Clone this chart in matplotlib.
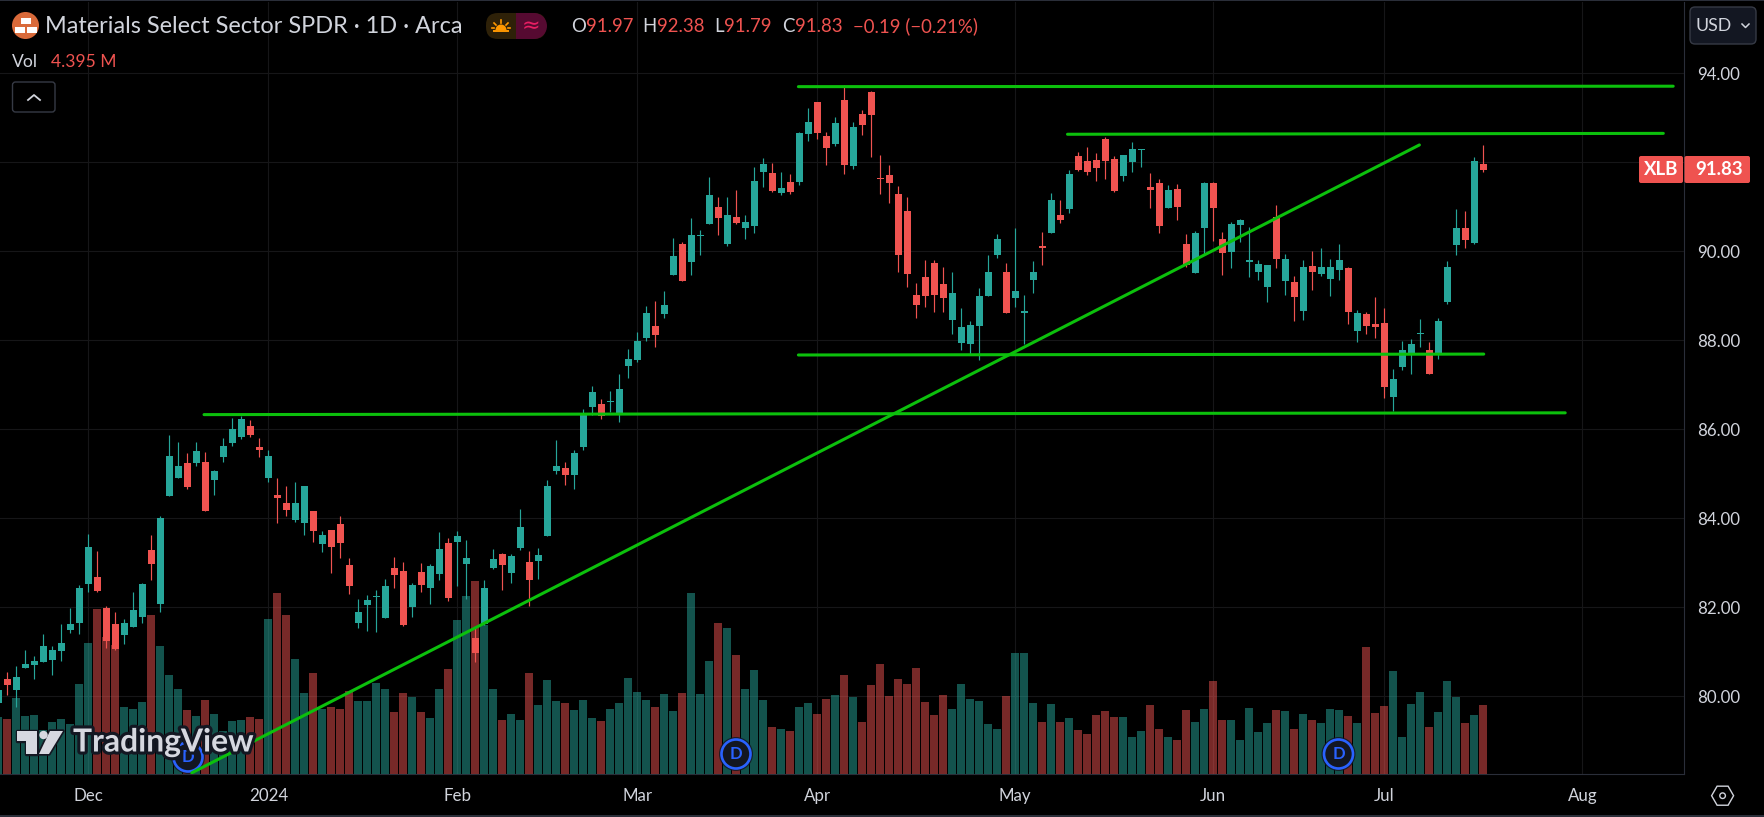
import matplotlib
matplotlib.use("Agg")
import matplotlib.pyplot as plt
import matplotlib.patheffects as pe
from matplotlib.patches import Circle, Polygon, Rectangle, FancyBboxPatch, Wedge
import numpy as np

# ---------- data ----------
first_bar = -2
opens = [79.86,80.39,
 80.15,80.64,80.70,80.77,80.82,81.02,81.49,81.65,82.52,82.67,
 81.99,81.63,81.38,81.56,81.78,83.29,82.07,84.50,84.91,85.24,
 85.24,85.27,84.87,85.38,85.69,85.83,86.07,85.60,84.91,84.52,
 84.34,83.96,83.90,84.16,83.42,83.74,83.87,82.95,81.65,82.05,
 82.23,81.76,82.88,82.82,82.01,82.79,82.43,82.75,83.45,83.47,
 82.97,81.31,81.63,82.88,83.20,82.77,83.33,83.02,83.04,83.60,
 85.06,85.13,84.97,85.60,86.50,86.57,86.61,86.34,87.42,87.56,
 88.05,88.32,88.59,89.47,90.16,89.76,90.34,90.61,91.00,90.16,
 90.77,90.52,90.57,91.78,91.76,91.31,91.56,91.56,92.64,93.36,
 92.59,92.41,93.40,91.92,93.09,93.58,91.65,91.72,91.29,90.91,
 89.02,89.42,89.74,89.27,88.46,87.94,87.92,88.32,89.00,89.92,
 89.54,88.95,88.62,89.36,90.10,90.41,90.82,90.95,92.14,92.03,
 92.05,92.52,92.07,91.69,92.01,92.28,91.45,91.54,90.97,91.40,
 90.16,89.51,90.52,91.54,90.28,89.99,90.59,89.77,89.54,89.20,
 90.77,89.33,89.31,88.66,89.67,89.49,89.38,89.58,89.63,88.21,
 88.59,88.37,88.39,86.73,87.40,87.69,88.14,87.78,87.69,88.86,
 90.14,90.52,90.19,91.97]
closes = [80.14,80.25,
 80.43,80.73,80.79,81.13,81.04,81.20,81.63,82.43,83.36,82.37,
 81.24,81.06,81.65,81.94,82.52,82.97,84.01,85.40,85.18,84.70,
 85.51,84.16,85.07,85.63,86.01,86.23,85.87,85.54,85.40,84.46,
 84.19,84.34,84.73,83.72,83.63,83.36,83.45,82.48,81.90,82.16,
 82.25,82.48,82.73,81.60,82.50,82.50,82.93,83.31,82.21,83.60,
 83.11,80.97,82.43,83.09,82.95,83.15,83.81,82.61,83.18,84.73,
 85.18,84.97,85.47,86.34,86.84,86.30,86.64,86.91,87.58,87.99,
 88.61,88.12,88.79,89.90,89.33,90.37,90.37,91.27,90.75,90.82,
 90.64,90.66,91.58,91.96,91.36,91.42,91.33,92.66,92.91,92.66,
 92.32,92.88,91.94,92.79,92.84,93.06,91.63,91.54,89.92,89.49,
 88.79,89.00,89.02,88.95,89.06,88.30,88.34,89.00,89.54,90.28,
 88.61,89.11,88.64,89.54,90.08,91.15,90.70,91.74,91.83,91.78,
 91.87,92.03,91.36,92.16,92.30,92.30,91.38,90.57,91.38,91.00,
 89.69,90.41,91.54,90.97,89.96,90.61,90.70,89.80,89.72,89.69,
 89.83,89.83,88.97,89.65,89.54,89.65,89.65,89.81,88.64,88.61,
 88.32,88.30,86.95,87.13,87.78,87.92,88.16,87.24,88.43,89.65,
 90.52,90.25,92.03,91.83]
highs = [80.30,80.55,
 80.68,81.04,80.91,81.40,81.13,81.63,81.99,82.49,83.65,83.27,
 82.03,81.90,81.74,82.34,82.55,83.63,84.05,85.87,85.72,85.46,
 85.72,85.49,85.09,85.80,86.26,86.30,86.21,85.80,85.54,84.91,
 84.73,84.82,84.73,84.16,83.72,83.74,84.05,83.11,82.19,82.28,
 82.39,82.64,83.13,83.02,82.55,83.00,82.97,83.69,83.56,83.72,
 83.51,81.53,82.61,83.31,83.22,83.20,84.21,83.27,83.33,84.86,
 85.76,85.27,85.54,86.46,86.97,86.68,86.86,87.24,87.81,88.19,
 88.77,88.88,89.11,90.30,90.21,90.75,90.48,91.67,91.22,91.22,
 91.38,90.82,91.90,92.10,91.99,91.78,91.74,92.68,93.22,93.36,
 92.68,93.02,93.74,92.91,93.18,93.60,92.17,91.94,91.47,91.22,
 89.29,89.81,89.81,89.65,89.54,88.73,88.43,89.18,89.92,90.39,
 89.74,90.52,89.02,89.78,90.43,91.31,91.15,91.83,92.23,92.34,
 92.21,92.57,92.14,92.16,92.46,92.30,91.76,91.63,91.49,91.51,
 90.39,90.46,91.56,91.56,90.43,90.66,90.73,90.55,89.81,89.69,
 91.04,89.94,89.45,89.81,90.01,90.07,89.83,90.16,89.65,88.68,
 88.64,88.97,88.73,87.36,87.99,88.03,88.48,87.96,88.50,89.78,
 90.95,90.91,92.12,92.38]
lows = [79.70,80.03,
 79.75,80.63,80.38,80.77,80.48,80.80,81.43,81.40,82.34,82.34,
 81.09,81.03,81.18,81.56,81.65,82.61,81.90,84.50,84.91,84.66,
 85.18,84.16,84.52,85.27,85.63,85.78,85.83,85.38,84.82,83.90,
 84.05,83.92,83.63,83.47,83.24,82.77,83.11,82.30,81.54,81.47,
 81.45,81.76,82.43,81.58,81.78,82.34,82.07,82.61,82.14,82.48,
 82.19,80.76,81.60,82.86,82.39,82.55,83.29,82.03,82.64,83.60,
 85.00,84.75,84.66,85.54,86.32,86.23,86.39,86.16,87.15,87.51,
 87.99,87.85,88.50,89.47,89.33,89.47,89.92,90.61,90.37,90.12,
 90.61,90.28,90.41,91.45,91.33,91.27,91.29,91.49,92.48,92.52,
 91.94,92.37,91.74,91.85,92.61,92.12,91.29,91.09,89.54,89.20,
 88.50,88.75,88.64,88.64,88.14,87.78,87.67,87.56,89.00,89.85,
 88.61,88.75,87.92,89.06,89.69,90.41,90.64,90.86,91.81,91.72,
 91.58,91.63,91.33,91.58,91.78,91.90,90.97,90.41,90.97,90.70,
 89.65,89.51,89.92,90.23,89.47,89.63,90.21,89.42,89.36,88.86,
 89.63,89.02,88.43,88.46,89.13,89.45,89.00,89.36,88.37,87.96,
 88.14,88.05,86.70,86.41,87.33,87.24,87.85,87.24,87.58,88.82,
 89.92,90.07,90.16,91.79]
volumes_m = [3.60,3.49,
 4.82,3.68,3.74,2.79,3.30,3.49,3.17,5.71,8.30,10.46,
 8.68,8.18,4.25,4.12,4.56,10.08,8.11,6.28,5.39,4.06,
 3.68,4.69,3.80,2.70,3.36,3.42,3.61,3.49,9.83,11.47,
 10.08,7.29,5.13,6.40,4.12,4.25,4.12,5.26,4.63,4.63,
 5.77,5.39,3.93,5.13,4.88,3.93,3.55,5.39,6.66,9.76,
 11.28,12.23,9.45,5.39,3.42,3.80,3.42,6.40,4.37,5.96,
 4.63,4.50,4.06,4.69,3.55,3.36,4.12,4.50,6.09,5.20,
 4.69,4.25,5.07,3.99,5.13,11.47,5.07,7.16,9.57,9.25,
 7.54,5.39,6.59,4.69,2.98,2.85,2.73,4.25,4.50,3.80,
 4.75,5.01,6.28,4.88,3.30,5.64,6.97,4.94,6.02,5.71,
 6.72,4.56,3.76,5.03,4.14,5.73,4.78,4.65,3.19,2.87,
 4.97,7.69,7.69,4.52,3.32,4.46,3.32,3.57,2.81,2.56,
 3.76,4.01,3.63,3.63,2.37,2.75,4.40,2.87,2.37,2.18,
 4.08,3.32,4.14,5.92,3.44,3.44,2.18,4.20,2.68,3.25,
 4.08,4.01,2.87,3.82,3.44,3.25,4.14,4.08,3.70,3.25,
 8.07,3.89,4.33,6.55,2.37,4.46,5.22,3.00,3.95,5.92,
 4.90,3.25,3.76,4.395]
price_ticks = [80, 82, 84, 86, 88, 90, 92, 94]
month_labels = ["Dec", "2024", "Feb", "Mar", "Apr", "May", "Jun", "Jul", "Aug"]
month_bars = [8, 28, 49, 69, 89, 111, 133, 152, 174]
# trend lines drawn on the chart: bar positions and price levels
line_bars = [(86.9, 184.1), (116.8, 183.0), (86.9, 163.05), (20.86, 172.1), (19.5, 155.9)]
line_prices = [(93.70, 93.71), (92.63, 92.65), (87.67, 87.69), (86.33, 86.37), (78.28, 92.39)]

# ---------- style ----------
plt.rcParams["font.family"] = ["Lato", "DejaVu Sans"]
TEAL, RED = "#26a69a", "#ef5350"
GRID = "#161618"
TXT = "#d1d4dc"
GREEN = "#0cc00c"
W, H = 1764, 817
L, R, T, B = 0, 1684.3, 2, 774

fig = plt.figure(figsize=(W / 100, H / 100), dpi=100, facecolor="black")
pos = [L / W, (H - B) / H, (R - L) / W, (B - T) / H]
xlim = (-16.3 / 9, (R - 16.3) / 9)
ylim = (86 - (B - 429.3) / 44.5, 86 + (429.3 - T) / 44.5)

x = np.arange(first_bar, first_bar + len(opens))
o, h, l, c = map(np.array, (opens, highs, lows, closes))
up = c >= o
cols = np.where(up, TEAL, RED)

# grid + axis labels
ax_g = fig.add_axes(pos, facecolor="black", zorder=0)
ax_g.set_xlim(xlim); ax_g.set_ylim(ylim)
ax_g.set_xticks(month_bars, month_labels)
ax_g.set_yticks(price_ticks, [f"{v:.2f}" for v in price_ticks])
ax_g.yaxis.tick_right()
ax_g.grid(True, color=GRID, lw=0.8)
ax_g.set_axisbelow(True)
ax_g.tick_params(axis="both", length=0, labelcolor=TXT, labelsize=12.2)
ax_g.tick_params(axis="y", pad=9.5)
ax_g.tick_params(axis="x", pad=10)
for s in ("top", "left"):
    ax_g.spines[s].set_visible(False)
for s in ("right", "bottom"):
    ax_g.spines[s].set_color("#2a2e39")
    ax_g.spines[s].set_linewidth(0.8)

# volume pane
ax_v = fig.add_axes(pos, zorder=1)
ax_v.patch.set_alpha(0)
ax_v.set_xlim(xlim); ax_v.set_ylim(0, (B - T) * 0.0634)
ax_v.axis("off")
ax_v.bar(x, volumes_m, width=8 / 9, color=cols, alpha=0.5, linewidth=0)

# dividend markers sit above the volume bars, below the drawings
ui_low = fig.add_axes([0, 0, 1, 1], zorder=1.5)
ui_low.patch.set_alpha(0)
ui_low.set_xlim(0, W); ui_low.set_ylim(H, 0)
ui_low.axis("off")
for cx, cy in [(188, 757), (736, 754), (1338.5, 754)]:
    ui_low.add_patch(Circle((cx, cy), 17, fc="#131722", ec="none", alpha=0.85, zorder=2))
    ui_low.add_patch(Circle((cx, cy), 14.5, fc="#131722", ec="#2962ff", lw=1.9, zorder=3))
    ui_low.text(cx, cy, "D", color="#2962ff", fontsize=12, ha="center", va="center",
                zorder=4, fontweight="bold")

# candles + lines
ax_p = fig.add_axes(pos, zorder=2)
ax_p.patch.set_alpha(0)
ax_p.set_xlim(xlim); ax_p.set_ylim(ylim)
ax_p.axis("off")
ax_p.vlines(x, l, h, colors=cols, lw=0.85, zorder=2)
tops, bots = np.maximum(o, c), np.minimum(o, c)
ax_p.bar(x, np.maximum(tops - bots, 0.028), bottom=bots, width=7 / 9, color=cols,
         linewidth=0, zorder=3)
for bx, by in zip(line_bars, line_prices):
    ax_p.plot(bx, by, color=GREEN, lw=2.2, solid_capstyle="round", zorder=4)

# ---------- interface overlay (pixel coordinates) ----------
ui = fig.add_axes([0, 0, 1, 1], zorder=5)
ui.patch.set_alpha(0)
ui.set_xlim(0, W); ui.set_ylim(H, 0)
ui.axis("off")

def txt(px, py, s, color=TXT, size=14.0, ha="left", **kw):
    return ui.text(px, py, s, color=color, fontsize=size, ha=ha, va="center", **kw)

def box(x0, y0, x1, y1, fc, ec="none", rad=3, lw=1.0, z=2):
    p = FancyBboxPatch((x0, y0), x1 - x0, y1 - y0, boxstyle=f"round,pad=0,rounding_size={rad}",
                       fc=fc, ec=ec, lw=lw, zorder=z)
    ui.add_patch(p)

# window edges
ui.add_patch(Rectangle((0, 0), W, 1.4, fc="#2a2e39", ec="none"))
ui.add_patch(Rectangle((0, 815), W, 2, fc="#2a2e39", ec="none"))

# symbol icon
ui.add_patch(Circle((25.5, 25.5), 13.5, fc="#d96a3a", ec="none"))
for bx0, by0, bw, bh in [(21, 18, 10, 6), (14.5, 26.5, 10, 6), (26.5, 26.5, 10, 6)]:
    ui.add_patch(Rectangle((bx0, by0), bw, bh, fc="white", ec="none", zorder=3))

txt(45, 26, "Materials Select Sector SPDR · 1D · Arca", size=16.9)
txt(12, 62, "Vol", size=12.6)
txt(51, 62, "4.395 M", color=RED, size=12.6)

# session pill
box(486, 13, 546, 39, "#2e2108", rad=12)
ui.add_patch(Rectangle((516, 13), 18, 26, fc="#560a31", ec="none", zorder=3))
ui.add_patch(Wedge((534, 26), 13, -90, 90, fc="#560a31", ec="none", zorder=3))
ui.add_patch(Wedge((501, 30), 5.5, 180, 360, fc="#ff9800", ec="none", zorder=4))
ui.plot([494, 508], [31, 31], color="#ff9800", lw=1.4, zorder=4)
for dx0, dy0, dx1, dy1 in [(501, 20, 501, 22.5), (494, 23, 496, 25), (508, 23, 506, 25), (492, 28, 494, 28), (510, 28, 508, 28)]:
    ui.plot([dx0, dx1], [dy0, dy1], color="#ff9800", lw=1.2, zorder=4)
txt(531, 26, "≈", color="#e91e63", size=16, ha="center", zorder=4, family="DejaVu Sans")

# OHLC
for px, lab, val in [(570.7, "O", "91.97"), (642, "H", "92.38"), (714, "L", "91.79"), (782, "C", "91.83")]:
    t = txt(px, 26, lab, size=13.4)
    ui.annotate(val, xy=(1, 0.5), xycoords=t, xytext=(0.5, 0), textcoords="offset points",
                color=RED, fontsize=13.4, va="center")
txt(853, 26, "−0.19 (−0.21%)", color=RED, size=13.4)

# collapse button
box(12.5, 82, 55, 112, "black", ec="#363a45", rad=3)
ui.plot([28, 34, 40], [100, 95, 100], color=TXT, lw=1.3)

# currency button
box(1690, 7, 1756, 44, "#131722", ec="#363a45", rad=5)
txt(1695.5, 25.5, "USD", size=12.8)
ui.plot([1742, 1745.5, 1749], [24, 27.5, 24], color=TXT, lw=1.1, zorder=4)

# last price badge
box(1639, 156, 1683, 183, RED, rad=2)
box(1684.5, 156, 1750, 183, RED, rad=2)
txt(1661, 169.5, "XLB", color="white", size=13.4, ha="center", zorder=4, fontweight="bold")
txt(1719, 169.5, "91.83", color="white", size=13.4, ha="center", zorder=4, fontweight="bold")

# watermark
stroke = [pe.withStroke(linewidth=4.5, foreground="#131722")]
logo_t = [(17, 731), (37, 731), (37, 754), (26, 754), (26, 741), (17, 741)]
logo_s = [(50, 731), (63, 731), (49, 754), (39, 754)]
for pts in (logo_t, logo_s):
    ui.add_patch(Polygon(pts, closed=True, fc="#d6d8e0", ec="#131722", lw=2.5, zorder=6, joinstyle="round"))
    ui.add_patch(Polygon(pts, closed=True, fc="#d6d8e0", ec="none", zorder=7))
ui.add_patch(Circle((43.5, 735), 4.2, fc="#d6d8e0", ec="none", zorder=7))
txt(73, 742, "TradingView", color="#d6d8e0", size=22.9, zorder=7, fontweight="bold",
    path_effects=stroke)

# price-scale settings hexagon
hx, hy = 1722.6, 795.7
ang = np.deg2rad(np.arange(0, 360, 60))
ui.add_patch(Polygon(np.c_[hx + 11 * np.cos(ang), hy + 11 * np.sin(ang)], closed=True,
                     fc="none", ec=TXT, lw=1.0))
ui.add_patch(Circle((hx, hy), 2.8, fc="none", ec=TXT, lw=1.0))

fig.savefig("out.png", dpi=100, facecolor="black")
